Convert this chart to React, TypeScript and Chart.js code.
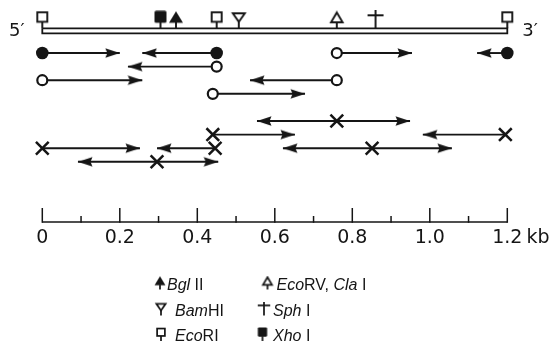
import React, { useEffect, useRef } from "react";
import { Chart, registerables } from "chart.js";

Chart.register(...registerables);

// ---------------- data ----------------
const mapStartKb = 0;
const mapEndKb = 1.2;

const siteEnzymes = ["EcoRI", "XhoI", "BglII", "EcoRI", "BamHI", "EcoRV", "SphI", "EcoRI"];
const sitePositionsKb = [0, 0.305, 0.345, 0.45, 0.507, 0.76, 0.86, 1.2];

const fragmentLanes = [1, 1, 1, 1, 2, 3, 3, 4, 6, 7, 7, 8, 8, 8, 9];
const fragmentLabels = ["filled", "filled", "open", "filled", "open", "open", "open", "open", "cross", "cross", "cross", "cross", "cross", "cross", "cross"];
const fragmentOriginsKb = [0, 0.45, 0.76, 1.2, 0.45, 0, 0.76, 0.44, 0.76, 0.44, 1.195, 0, 0.446, 0.851, 0.296];
const fragmentLeftKb = [0, 0.258, 0.76, 1.122, 0.221, 0, 0.536, 0.44, 0.554, 0.44, 0.982, 0, 0.296, 0.621, 0.092];
const fragmentRightKb = [0.2, 0.45, 0.954, 1.2, 0.45, 0.258, 0.76, 0.678, 0.949, 0.652, 1.195, 0.252, 0.446, 1.057, 0.454];

const scaleTicksKb = [0, 0.1, 0.2, 0.3, 0.4, 0.5, 0.6, 0.7, 0.8, 0.9, 1.0, 1.1, 1.2];
const scaleLabelKb = [0, 0.2, 0.4, 0.6, 0.8, 1.0, 1.2];
const scaleLabels = ["0", "0.2", "0.4", "0.6", "0.8", "1.0", "1.2"];
const scaleUnit = "kb";
const endLabels = ["5\u2032", "3\u2032"];

const legendEnzymes = ["BglII", "EcoRV", "BamHI", "SphI", "EcoRI", "XhoI"];
const legendTexts: [string, boolean][][] = [
  [["Bgl", true], [" II", false]],
  [["Eco", true], ["RV, ", false], ["Cla", true], [" I", false]],
  [["Bam", true], ["HI", false]],
  [["Sph", true], [" I", false]],
  [["Eco", true], ["RI", false]],
  [["Xho", true], [" I", false]],
];

// ---------------- layout / style ----------------
const W = 550;
const H = 344;
const INK = "#151515";
const PAD_L = 42.3;
const PAD_R = 42.7;
const Y_MIN = -2.9;
const Y_MAX = 22.4;
const DNA_TOP = -0.82;
const DNA_BOTTOM = -0.45;
const SCALE_BASE_Y = 222;
const MAJOR_TICK = 14;
const MINOR_TICK = 6;
const SCALE_LABEL_Y = 243;
const SCALE_FONT = "19px 'DejaVu Sans', sans-serif";
const END_FONT = "18px 'DejaVu Sans', sans-serif";
const LEGEND_SIZE = 16;
const LEGEND_FAMILY = "'Liberation Sans', Arial, sans-serif";
const legendIconX = [160, 267.5, 161, 264, 161, 262.5];
const legendTextX = [167, 276.5, 175, 273, 175, 273];
const legendBaseY = [289.5, 289.5, 315.5, 315.5, 341, 341];

function makeIcon(kind: string, s: number, lw: number): HTMLCanvasElement {
  const bw = 18, bh = 18;
  const cw = Math.round(bw * s), ch = Math.round(bh * s);
  const c = document.createElement("canvas");
  c.width = cw;
  c.height = ch * 2;
  const g = c.getContext("2d")!;
  g.scale(cw / bw, ch / bh);
  g.strokeStyle = INK;
  g.fillStyle = INK;
  g.lineWidth = lw;
  const cx = 9;
  const stem = (y0: number) => {
    g.beginPath();
    g.moveTo(cx, y0);
    g.lineTo(cx, 18);
    g.stroke();
  };
  switch (kind) {
    case "EcoRI":
      g.strokeRect(4, 2, 10, 9.5);
      stem(11.5);
      break;
    case "XhoI":
      g.beginPath();
      g.roundRect(3, 0.5, 12, 12, 1.5);
      g.fill();
      stem(12);
      break;
    case "BglII":
      g.beginPath();
      g.moveTo(9, 1);
      g.lineTo(16, 12.5);
      g.lineTo(2, 12.5);
      g.closePath();
      g.fill();
      stem(12);
      break;
    case "EcoRV":
      g.beginPath();
      g.moveTo(9, 2.2);
      g.lineTo(14.8, 12);
      g.lineTo(3.2, 12);
      g.closePath();
      g.stroke();
      stem(12);
      break;
    case "BamHI":
      g.beginPath();
      g.moveTo(3, 3);
      g.lineTo(15, 3);
      g.lineTo(9, 11.5);
      g.closePath();
      g.stroke();
      stem(11.5);
      break;
    case "SphI":
      g.beginPath();
      g.moveTo(9, 0);
      g.lineTo(9, 18);
      g.moveTo(1, 5);
      g.lineTo(17, 5);
      g.stroke();
      break;
  }
  return c;
}

function makeArrow(dir: number): HTMLCanvasElement {
  const L = 14.5, h = 4.8;
  const c = document.createElement("canvas");
  c.width = 2 * Math.ceil(L);
  c.height = 12;
  const g = c.getContext("2d")!;
  const cy = 6, tip = c.width / 2;
  g.fillStyle = INK;
  g.beginPath();
  g.moveTo(tip, cy);
  g.lineTo(tip - dir * L, cy - h);
  g.lineTo(tip - dir * (L - 2), cy);
  g.lineTo(tip - dir * L, cy + h);
  g.closePath();
  g.fill();
  return c;
}

export default function App() {
  const ref = useRef<HTMLCanvasElement | null>(null);

  useEffect(() => {
    if (!ref.current) return;
    const mapIcons: Record<string, HTMLCanvasElement> = {};
    const legIcons: Record<string, HTMLCanvasElement> = {};
    ["EcoRI", "XhoI", "BglII", "EcoRV", "BamHI", "SphI"].forEach((k) => {
      mapIcons[k] = makeIcon(k, 1, 1.9);
      legIcons[k] = makeIcon(k, 0.8, 2.2);
    });
    const arrowL = makeArrow(-1);
    const arrowR = makeArrow(1);

    const siteDataset: any = {
      data: sitePositionsKb.map((x) => ({ x, y: DNA_TOP })),
      showLine: false,
      pointStyle: siteEnzymes.map((e) => mapIcons[e]),
      pointRadius: 8,
      clip: false,
    };
    const dnaDataset: any = {
      data: [
        { x: mapStartKb, y: DNA_TOP },
        { x: mapEndKb, y: DNA_TOP },
        { x: mapEndKb, y: DNA_BOTTOM },
        { x: mapStartKb, y: DNA_BOTTOM },
        { x: mapStartKb, y: DNA_TOP },
      ],
      showLine: true,
      borderColor: INK,
      borderWidth: 1.8,
      pointRadius: 0,
      clip: false,
    };
    const fragDatasets: any[] = fragmentLanes.map((lane, i) => {
      const pts: any[] = [];
      const styles: any[] = [];
      const radii: number[] = [];
      const bgs: string[] = [];
      const bws: number[] = [];
      const o = fragmentOriginsKb[i];
      const mark = fragmentLabels[i];
      if (fragmentLeftKb[i] < o) {
        pts.push({ x: fragmentLeftKb[i], y: lane });
        styles.push(arrowL);
        radii.push(7);
        bgs.push(INK);
        bws.push(0);
      }
      pts.push({ x: o, y: lane });
      styles.push(mark === "cross" ? "crossRot" : "circle");
      radii.push(mark === "cross" ? 9 : mark === "filled" ? 6.3 : 5);
      bgs.push(mark === "open" ? "#ffffff" : INK);
      bws.push(mark === "filled" ? 0 : mark === "cross" ? 2.5 : 2.2);
      if (fragmentRightKb[i] > o) {
        pts.push({ x: fragmentRightKb[i], y: lane });
        styles.push(arrowR);
        radii.push(7);
        bgs.push(INK);
        bws.push(0);
      }
      return {
        data: pts,
        showLine: true,
        borderColor: INK,
        borderWidth: 1.9,
        pointStyle: styles,
        pointRadius: radii,
        pointBackgroundColor: bgs,
        pointBorderColor: INK,
        pointBorderWidth: bws,
        clip: false,
      };
    });

    const overlay = {
      id: "mapOverlay",
      afterDraw(chart: any) {
        const ctx = chart.ctx as CanvasRenderingContext2D;
        const xs = chart.scales.x;
        ctx.save();
        ctx.fillStyle = INK;
        ctx.strokeStyle = INK;
        // 5' / 3' labels
        ctx.font = END_FONT;
        ctx.textBaseline = "alphabetic";
        ctx.textAlign = "left";
        ctx.fillText(endLabels[0], 9, 35.5);
        ctx.fillText(endLabels[1], xs.getPixelForValue(mapEndKb) + 15, 36);
        // scale bar
        ctx.lineWidth = 1.6;
        ctx.beginPath();
        ctx.moveTo(xs.getPixelForValue(scaleTicksKb[0]), SCALE_BASE_Y);
        ctx.lineTo(xs.getPixelForValue(scaleTicksKb[scaleTicksKb.length - 1]), SCALE_BASE_Y);
        ctx.stroke();
        ctx.lineWidth = 1.5;
        scaleTicksKb.forEach((v) => {
          const major = scaleLabelKb.some((m) => Math.abs(m - v) < 1e-6);
          const px = xs.getPixelForValue(v);
          ctx.beginPath();
          ctx.moveTo(px, SCALE_BASE_Y + 0.8);
          ctx.lineTo(px, SCALE_BASE_Y - (major ? MAJOR_TICK : MINOR_TICK));
          ctx.stroke();
        });
        ctx.font = SCALE_FONT;
        ctx.textAlign = "center";
        scaleLabelKb.forEach((v, i) => {
          ctx.fillText(scaleLabels[i], xs.getPixelForValue(v), SCALE_LABEL_Y);
        });
        const lastPx = xs.getPixelForValue(scaleLabelKb[scaleLabelKb.length - 1]);
        const lastW = ctx.measureText(scaleLabels[scaleLabels.length - 1]).width;
        ctx.textAlign = "left";
        ctx.fillText(" " + scaleUnit, lastPx + lastW / 2 - 2, SCALE_LABEL_Y);
        // legend
        legendEnzymes.forEach((e, i) => {
          const ic = legIcons[e];
          const base = legendBaseY[i];
          ctx.drawImage(ic, legendIconX[i] - ic.width / 2, base - ic.height / 2);
          let x = legendTextX[i];
          legendTexts[i].forEach(([t, it]) => {
            ctx.font = (it ? "italic " : "") + LEGEND_SIZE + "px " + LEGEND_FAMILY;
            ctx.fillText(t, x, base);
            x += ctx.measureText(t).width;
          });
        });
        ctx.restore();
      },
    };

    const chart = new Chart(ref.current, {
      type: "scatter",
      data: { datasets: [siteDataset, dnaDataset, ...fragDatasets] },
      options: {
        animation: false,
        responsive: false,
        events: [],
        layout: { autoPadding: false, padding: { left: PAD_L, right: PAD_R, top: 0, bottom: 0 } },
        scales: {
          x: { type: "linear", min: 0, max: 1.2, display: false },
          y: { type: "linear", min: Y_MIN, max: Y_MAX, reverse: true, display: false },
        },
        plugins: { legend: { display: false }, tooltip: { enabled: false } },
      } as any,
      plugins: [overlay],
    });
    return () => chart.destroy();
  }, []);

  return (
    <div style={{ position: "fixed", left: 0, top: 0, width: W, height: H, background: "#fff" }}>
      <canvas ref={ref} width={W} height={H} style={{ display: "block" }} />
    </div>
  );
}
